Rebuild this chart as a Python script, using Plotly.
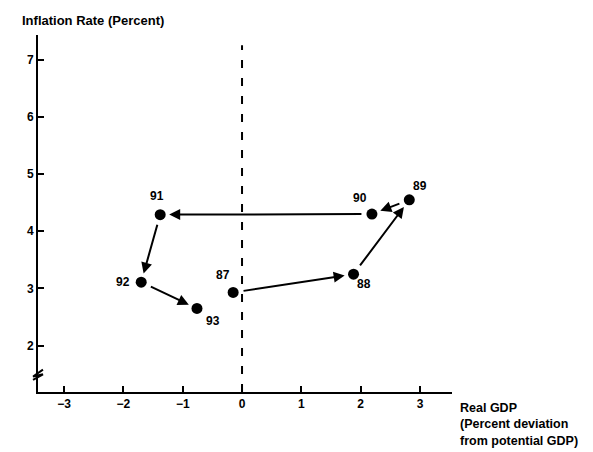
import plotly.graph_objects as go

years = ["87", "88", "89", "90", "91", "92", "93"]
gdp_gap = [-0.15, 1.88, 2.82, 2.19, -1.38, -1.70, -0.76]
inflation = [2.93, 3.25, 4.55, 4.30, 4.29, 3.11, 2.65]
x_ticks = [-3, -2, -1, 0, 1, 2, 3]
y_ticks = [2, 3, 4, 5, 6, 7]

# label offsets (pixels, screen direction) relative to each point
label_dx = [-10, 10, 11, -12, -3, -18, 16]
label_dy = [-17, 10, -14, -16, -19, 0, 13]

FONT = "Liberation Sans"

fig = go.Figure()

# vertical dashed line at zero gap
fig.add_shape(type="line", x0=0, x1=0, y0=1.19, y1=7.25, xref="x", yref="y",
              line=dict(color="black", width=2, dash="8px,10px"))

fig.add_trace(go.Scatter(x=gdp_gap, y=inflation, mode="markers",
                         marker=dict(color="black", size=11), hoverinfo="skip",
                         showlegend=False))

# arrows between consecutive years
for i in range(len(years) - 1):
    fig.add_annotation(x=gdp_gap[i + 1], y=inflation[i + 1],
                       ax=gdp_gap[i], ay=inflation[i],
                       xref="x", yref="y", axref="x", ayref="y",
                       showarrow=True, arrowhead=2, arrowsize=1.1, arrowwidth=2,
                       arrowcolor="black", standoff=9, startstandoff=9, text="")

for yr, x, y, dx, dy in zip(years, gdp_gap, inflation, label_dx, label_dy):
    fig.add_annotation(x=x, y=y, xref="x", yref="y", text="<b>%s</b>" % yr,
                       showarrow=False, xshift=dx, yshift=-dy,
                       font=dict(family=FONT, size=12, color="black"))

# axis break mark on the y axis
fig.add_shape(type="path", xref="paper", yref="y",
              path="M -0.012 1.40 L 0.012 1.50 L -0.012 1.46 L 0.012 1.58",
              line=dict(color="black", width=2))

fig.add_annotation(xref="paper", yref="paper", x=-0.0435, y=1.042,
                   xanchor="left", yanchor="middle", showarrow=False,
                   text="<b>Inflation Rate (Percent)</b>",
                   font=dict(family=FONT, size=13, color="black"))

fig.add_annotation(xref="paper", yref="paper", x=1.0145, y=-0.02,
                   xanchor="left", yanchor="top", showarrow=False, align="left",
                   text="<b>Real GDP<br>(Percent deviation<br>from potential GDP)</b>",
                   font=dict(family=FONT, size=12.5, color="black"))

fig.update_xaxes(range=[-3.44, 3.54], tickvals=x_ticks,
                 ticktext=["<b>%d</b>" % v if v >= 0 else "<b>\u2212%d</b>" % -v for v in x_ticks],
                 showgrid=False, zeroline=False, showline=True, linecolor="black",
                 linewidth=2, ticks="inside", ticklen=6, tickwidth=2, tickcolor="black",
                 tickfont=dict(family=FONT, size=12, color="black"))
fig.update_yaxes(range=[1.19, 7.43], tickvals=y_ticks,
                 ticktext=["<b>%d</b>" % v for v in y_ticks],
                 showgrid=False, zeroline=False, showline=True, linecolor="black",
                 linewidth=2, ticks="inside", ticklen=6, tickwidth=2, tickcolor="black",
                 tickfont=dict(family=FONT, size=12, color="black"))

fig.update_layout(width=585, height=444, plot_bgcolor="white", paper_bgcolor="white",
                  margin=dict(l=30, r=141, t=27, b=60), showlegend=False)

fig.write_html("out.html")
